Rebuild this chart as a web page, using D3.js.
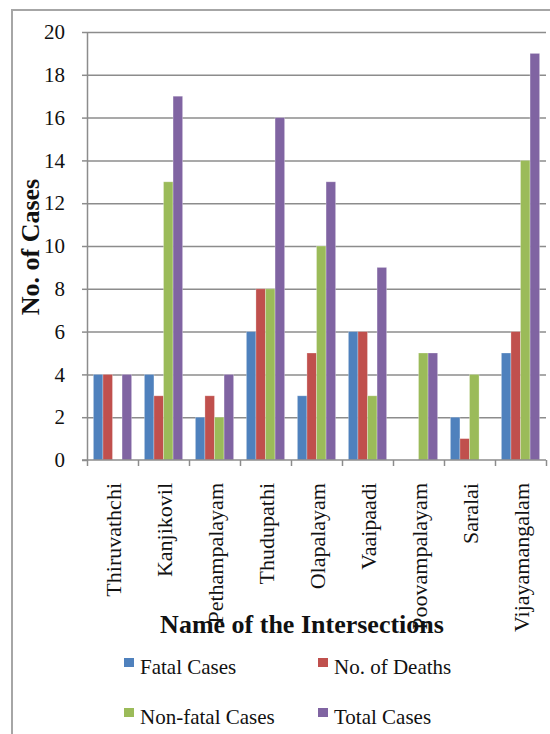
<!DOCTYPE html>
<html lang="en">
<head>
<meta charset="UTF-8" />
<title>Cases by Intersection</title>
<script src="https://d3js.org/d3.v7.min.js"></script>
<style>
    body { margin: 0; background: white; }
    svg text { font-family: "Liberation Serif", "Times New Roman", Times, serif; }
    .grid line { stroke: #8c8c8c; stroke-width: 1.5px; }
    .grid .domain { stroke: none; }
    .axis path, .axis line { stroke: #8c8c8c; stroke-width: 1.5px; }
    .axis text { fill: #111; }
</style>
</head>
<body>
<div id="chart"></div>
<script>
    const intersections = ["Thiruvathchi", "Kanjikovil", "Pethampalayam", "Thudupathi", "Olapalayam",
                           "Vaaipaadi", "Poovampalayam", "Saralai", "Vijayamangalam"];
    const seriesNames = ["Fatal Cases", "No. of Deaths", "Non-fatal Cases", "Total Cases"];
    const fatalCases    = [4, 4, 2, 6, 3, 6, 0, 2, 5];
    const noOfDeaths    = [4, 3, 3, 8, 5, 6, 0, 1, 6];
    const nonFatalCases = [0, 13, 2, 8, 10, 3, 5, 4, 14];
    const totalCases    = [4, 17, 4, 16, 13, 9, 5, 0, 19];
    const yTicks = [0, 2, 4, 6, 8, 10, 12, 14, 16, 18, 20];

    const colors = ["#4f81bd", "#c0504d", "#9bbb59", "#8064a2"];
    const allSeries = [fatalCases, noOfDeaths, nonFatalCases, totalCases];

    const W = 550, H = 734;
    const plot = { left: 87, right: 546, top: 32, bottom: 460 };
    const serif = "Liberation Serif, Times New Roman, Times, serif";

    const svg = d3.select("#chart").append("svg")
        .attr("width", W)
        .attr("height", H);

    // outer chart frame
    svg.append("rect")
        .attr("x", 12).attr("y", 10)
        .attr("width", W).attr("height", H)
        .attr("fill", "white")
        .attr("stroke", "#a6a6a6")
        .attr("stroke-width", 2);

    const x0 = d3.scaleBand()
        .domain(intersections)
        .range([plot.left, plot.right])
        .paddingInner(0.25)
        .paddingOuter(0.125);

    const x1 = d3.scaleBand()
        .domain(d3.range(seriesNames.length))
        .range([0, x0.bandwidth()]);

    const y = d3.scaleLinear()
        .domain([0, 20])
        .range([plot.bottom, plot.top]);

    svg.append("g")
        .attr("class", "grid")
        .attr("transform", `translate(${plot.left},0)`)
        .call(d3.axisLeft(y).tickValues(yTicks.slice(1)).tickSize(-(plot.right - plot.left)).tickFormat(""));

    const yAxisG = svg.append("g")
        .attr("class", "axis")
        .attr("transform", `translate(${plot.left},0)`)
        .call(d3.axisLeft(y).tickValues(yTicks).tickSize(5).tickPadding(17).tickSizeOuter(0))
        .attr("font-family", serif)
        .attr("font-size", 21);
    yAxisG.selectAll("text").style("font-family", serif).style("font-size", "21px");

    const groups = svg.append("g")
        .selectAll("g")
        .data(intersections)
        .join("g")
        .attr("transform", d => `translate(${x0(d)},0)`);

    groups.selectAll("rect")
        .data((d, i) => allSeries.map((s, k) => ({ k: k, v: s[i] })))
        .join("rect")
        .attr("x", d => x1(d.k))
        .attr("y", d => y(d.v))
        .attr("width", x1.bandwidth())
        .attr("height", d => y(0) - y(d.v))
        .attr("fill", d => colors[d.k])
        .attr("stroke", "rgba(255,255,255,0.35)")
        .attr("stroke-width", 0.8);

    // x axis with boundary ticks between categories
    const xTickScale = d3.scaleLinear().domain([0, intersections.length]).range([plot.left, plot.right]);
    const xAxisG = svg.append("g")
        .attr("class", "axis")
        .attr("transform", `translate(0,${plot.bottom})`)
        .call(d3.axisBottom(xTickScale).ticks(intersections.length).tickSize(6).tickFormat("").tickSizeOuter(0));
    xAxisG.select(".domain").attr("d", `M${plot.left - 5},0H${plot.right}`);

    svg.append("defs").append("clipPath")
        .attr("id", "labelClip")
        .append("rect")
        .attr("x", 0).attr("y", plot.bottom).attr("width", W).attr("height", 634 - plot.bottom);

    svg.append("g")
        .attr("clip-path", "url(#labelClip)")
        .selectAll("text")
        .data(intersections)
        .join("text")
        .attr("transform", d => `translate(${x0(d) + x0.bandwidth() / 2 + 8},483) rotate(-90)`)
        .attr("text-anchor", "end")
        .style("font-family", serif)
        .style("font-size", "22px")
        .attr("fill", "#111")
        .text(d => d);

    svg.append("text")
        .attr("x", 302)
        .attr("y", 633)
        .attr("text-anchor", "middle")
        .style("font-family", serif)
        .style("font-size", "26px")
        .attr("font-weight", "bold")
        .attr("fill", "#111")
        .text("Name of the Intersections");

    svg.append("text")
        .attr("transform", "translate(39,247) rotate(-90)")
        .attr("text-anchor", "middle")
        .style("font-family", serif)
        .style("font-size", "26px")
        .attr("font-weight", "bold")
        .attr("fill", "#111")
        .text("No. of Cases");

    const legendPos = [[124, 658], [318, 658], [124, 708], [318, 708]];
    const legend = svg.append("g")
        .selectAll("g")
        .data(seriesNames)
        .join("g")
        .attr("transform", (d, i) => `translate(${legendPos[i][0]},${legendPos[i][1]})`);

    legend.append("rect")
        .attr("width", 10)
        .attr("height", 9)
        .attr("fill", (d, i) => colors[i]);

    legend.append("text")
        .attr("x", 16)
        .attr("y", 16)
        .style("font-family", serif)
        .style("font-size", "21px")
        .attr("fill", "#111")
        .text(d => d);
</script>
</body>
</html>
